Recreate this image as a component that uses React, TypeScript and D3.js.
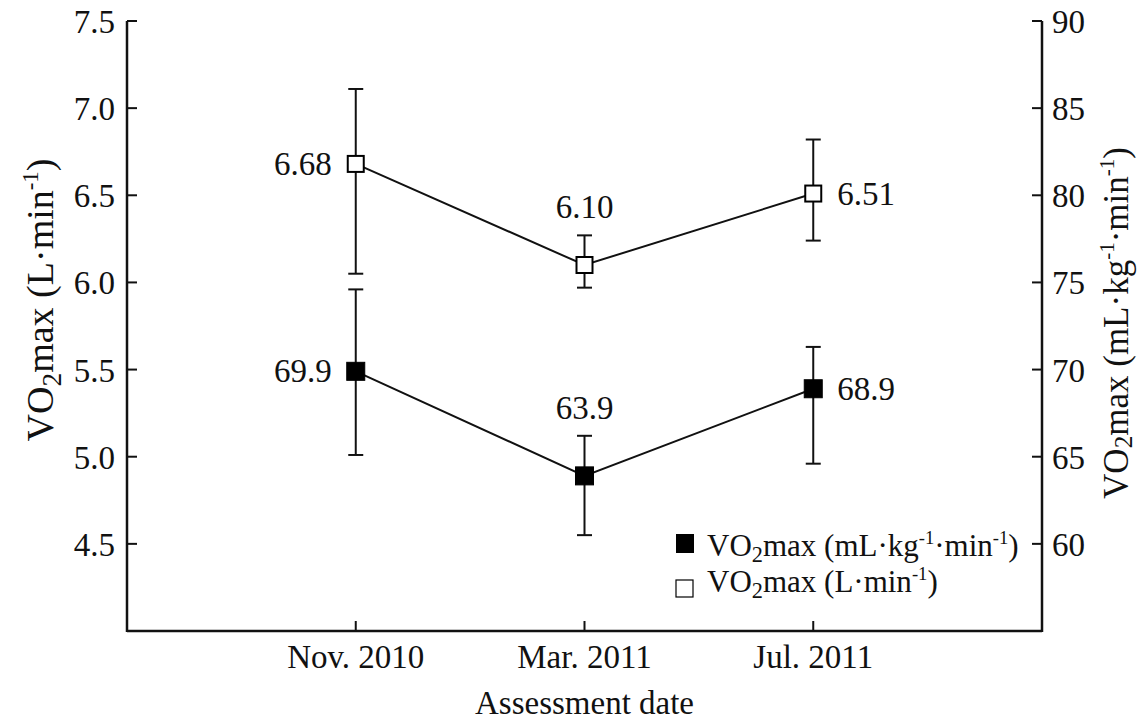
import React from 'react';
import * as d3 from 'd3';

const dates = ['Nov. 2010', 'Mar. 2011', 'Jul. 2011'];

// VO2max in L·min-1 (left axis), open squares
const absMean = [6.68, 6.10, 6.51];
const absUpper = [7.11, 6.27, 6.82];
const absLower = [6.05, 5.97, 6.24];

// VO2max in mL·kg-1·min-1 (right axis), filled squares
const relMean = [69.9, 63.9, 68.9];
const relUpper = [74.6, 66.2, 71.3];
const relLower = [65.1, 60.5, 64.6];

const leftTicks = [4.5, 5.0, 5.5, 6.0, 6.5, 7.0, 7.5];
const rightTicks = [60, 65, 70, 75, 80, 85, 90];

const W = 1140;
const H = 720;
const FONT = '"Liberation Serif", "Times New Roman", serif';

const x = d3.scaleLinear().domain([0, 4]).range([127, 1042]);
const yL = d3.scaleLinear().domain([4, 7.5]).range([631, 21]);
const yR = d3.scaleLinear().domain([55, 90]).range([631, 21]);

// VO2max text with subscript 2 and "-1" superscripts between the parts
function vo2(fs, parts, subShift = 0.2) {
  const sub = fs * subShift;
  const sup = fs * 0.4;
  const out = [
    <tspan key="vo">VO</tspan>,
    <tspan key="two" fontSize={fs * 0.72} dy={sub}>2</tspan>,
    <tspan key="p0" dy={-sub}>{parts[0]}</tspan>,
  ];
  for (let i = 1; i < parts.length; i++) {
    out.push(<tspan key={'s' + i} fontSize={fs * 0.6} dy={-sup}>-1</tspan>);
    out.push(<tspan key={'p' + i} dy={sup}>{parts[i]}</tspan>);
  }
  return out;
}

function Series({ mean, upper, lower, y, filled }) {
  const line = d3.line()
    .x((d, i) => x(i + 1))
    .y(d => y(d));
  const size = filled ? 18 : 16;
  const cap = 7.5;

  return (
    <g>
      {mean.map((m, i) => (
        <g key={'e' + i} stroke="#111" strokeWidth={2}>
          <line x1={x(i + 1)} x2={x(i + 1)} y1={y(upper[i])} y2={y(lower[i])} />
          <line x1={x(i + 1) - cap} x2={x(i + 1) + cap} y1={y(upper[i])} y2={y(upper[i])} />
          <line x1={x(i + 1) - cap} x2={x(i + 1) + cap} y1={y(lower[i])} y2={y(lower[i])} />
        </g>
      ))}
      <path d={line(mean)} fill="none" stroke="#111" strokeWidth={2} />
      {mean.map((m, i) => (
        <rect
          key={'m' + i}
          x={x(i + 1) - size / 2}
          y={y(m) - size / 2}
          width={size}
          height={size}
          fill={filled ? '#000' : '#fff'}
          stroke="#000"
          strokeWidth={filled ? 1 : 2}
        />
      ))}
      {mean.map((m, i) => {
        const label = filled ? m.toFixed(1) : m.toFixed(2);
        if (i === 1) {
          return (
            <text key={'t' + i} x={x(i + 1)} y={y(upper[i]) - 17} textAnchor="middle">{label}</text>
          );
        }
        const left = i === 0;
        return (
          <text
            key={'t' + i}
            x={x(i + 1) + (left ? -24 : 24)}
            y={y(m) + 11}
            textAnchor={left ? 'end' : 'start'}
          >
            {label}
          </text>
        );
      })}
    </g>
  );
}

export default function App() {
  return (
    <svg
      width={W}
      height={H}
      style={{ position: 'absolute', left: 0, top: 0, background: '#fff' }}
      fontFamily={FONT}
      fill="#111"
    >
      {/* axes */}
      <g stroke="#111" strokeWidth={2.5} fill="none">
        <line x1={x(0)} x2={x(0)} y1={yL(7.5)} y2={yL(4) + 1} />
        <line x1={x(4)} x2={x(4)} y1={yR(90)} y2={yR(55) + 1} />
        <line x1={x(0)} x2={x(4)} y1={yL(4)} y2={yL(4)} />
      </g>

      <g stroke="#111" strokeWidth={2}>
        {leftTicks.map(t => (
          <line key={'lt' + t} x1={x(0)} x2={x(0) + 10} y1={yL(t)} y2={yL(t)} />
        ))}
        {rightTicks.map(t => (
          <line key={'rt' + t} x1={x(4) - 10} x2={x(4)} y1={yR(t)} y2={yR(t)} />
        ))}
        {dates.map((d, i) => (
          <line key={'xt' + i} x1={x(i + 1)} x2={x(i + 1)} y1={yL(4)} y2={yL(4) - 10} />
        ))}
      </g>

      <g fontSize={33}>
        {leftTicks.map(t => (
          <text key={'ll' + t} x={x(0) - 12} y={yL(t) + 12} textAnchor="end">{t.toFixed(1)}</text>
        ))}
        {rightTicks.map(t => (
          <text key={'rl' + t} x={x(4) + 10} y={yR(t) + 12} textAnchor="start">{t}</text>
        ))}
        {dates.map((d, i) => (
          <text key={'xl' + i} x={x(i + 1)} y={668} textAnchor="middle">{d}</text>
        ))}
        <text x={(x(0) + x(4)) / 2} y={714} textAnchor="middle">Assessment date</text>
      </g>

      {/* axis titles */}
      <text fontSize={38} textAnchor="middle" transform="translate(53, 300) rotate(-90)">
        {vo2(38, ['max (L·min', ')'])}
      </text>
      <text fontSize={35} textAnchor="middle" transform="translate(1128, 323) rotate(-90)">
        {vo2(35, ['max (mL·kg', '·min', ')'], 0.12)}
      </text>

      <g fontSize={33}>
        <Series mean={absMean} upper={absUpper} lower={absLower} y={yL} filled={false} />
        <Series mean={relMean} upper={relUpper} lower={relLower} y={yR} filled={true} />
      </g>

      {/* legend */}
      <g fontSize={31}>
        <rect x={676} y={534} width={18} height={19} fill="#000" />
        <text x={707} y={556}>{vo2(31, ['max (mL·kg', '·min', ')'])}</text>
        <rect x={676} y={580} width={17} height={17} fill="#fff" stroke="#000" strokeWidth={1.2} />
        <text x={707} y={592}>{vo2(31, ['max (L·min', ')'])}</text>
      </g>
    </svg>
  );
}
